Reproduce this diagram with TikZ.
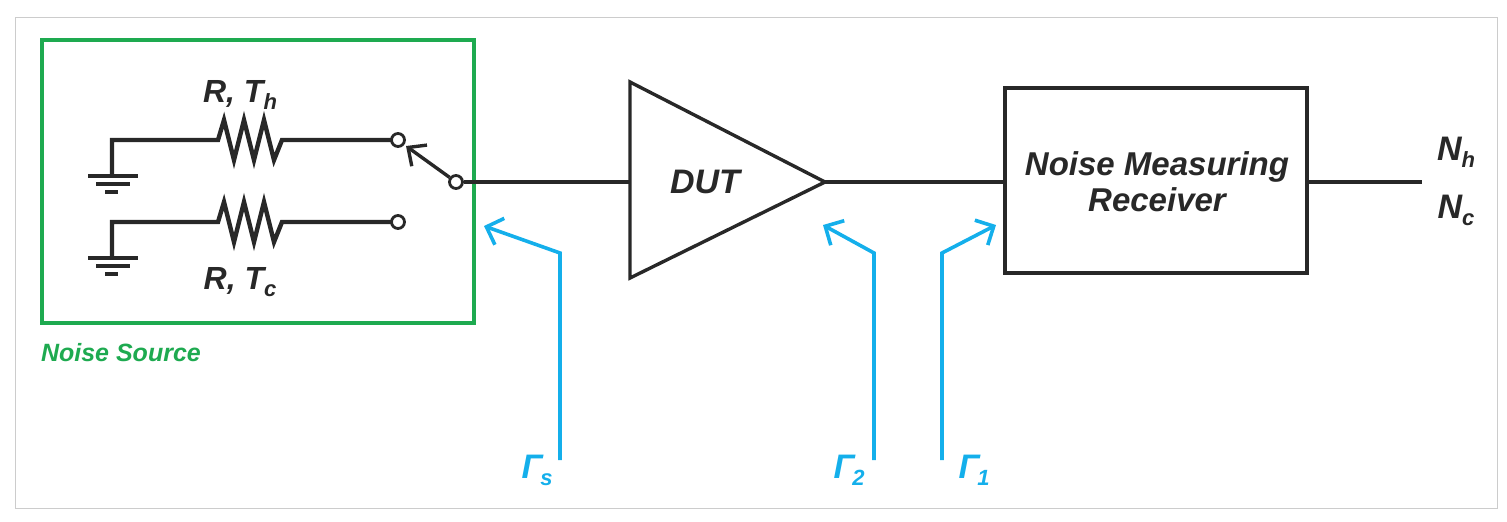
\documentclass[tikz,border=0pt]{standalone}
\usepackage{fontspec}
\setmainfont{Liberation Sans}
\usetikzlibrary{arrows.meta}
\definecolor{gr}{RGB}{30,170,80}
\definecolor{bl}{RGB}{20,175,235}
\definecolor{dk}{RGB}{40,40,40}
\newcommand{\sbs}[1]{\raisebox{-3.5pt}{\fontsize{11}{11}\selectfont #1}}
\begin{document}
\begin{tikzpicture}[x=0.5pt,y=-0.5pt,
  w/.style={dk,line width=1.7pt},
  bar/.style={bl,line width=1.8pt,-{Straight Barb[length=7pt,width=14pt]}},
  lab/.style={font=\bfseries\itshape\fontsize{16}{18}\selectfont,text=dk},
  gl/.style={font=\bfseries\itshape\fontsize{17}{20}\selectfont,text=bl},
  term/.style={circle,draw=dk,line width=1.4pt,fill=white,inner sep=0pt,minimum size=6.5pt}]
\useasboundingbox (0,0) rectangle (1507,521);
\draw[black!20,line width=0.5pt] (15,17) rectangle (1497,508);
\draw[gr,line width=1.8pt] (42,40) rectangle (474,323);
\node[font=\bfseries\itshape\fontsize{12.5}{14}\selectfont,text=gr,anchor=west] (ns) at (34,353) {Noise Source};
\foreach \y/\g/\n in {140/176/u,222/258/l}{
  \draw[w,line width=2.2pt] (112,\g) -- (112,\y) -- (218,\y) -- (224,\y-20) -- (234,\y+20) -- (244,\y-20) -- (254,\y+20) -- (264,\y-20) -- (274,\y+20) -- (282,\y) -- (392,\y);
  \draw[w] (88,\g) -- (138,\g);
  \draw[w] (96,\g+8) -- (130,\g+8);
  \draw[w] (105,\g+16) -- (118,\g+16);
  \node[term] (t\n) at (398,\y) {};
}
\node[lab] (rh) at (240,95) {R, T\sbs{h}};
\node[lab] (rc) at (240,282) {R, T\sbs{c}};
\node[term] (pv) at (456,182) {};
\draw[w,-{Straight Barb[length=7pt,width=13pt]}] (pv) -- (406,146);
\coordinate (ta) at (630,82); \coordinate (tb) at (630,278); \coordinate (tc) at (825,182);
\draw[w,line join=miter] (ta) -- (tc) -- (tb) -- cycle;
\node[lab,font=\bfseries\itshape\fontsize{17}{20}\selectfont] (dut) at (705,182) {DUT};
\draw[w] (pv) -- (630,182);
\node[draw=dk,line width=1.7pt,minimum width=151pt,minimum height=92.5pt] (rx) at (1156,180.5) {};
\node[lab,font=\bfseries\itshape\fontsize{16.5}{20}\selectfont,align=center] (rxt) at (1157,182) {Noise Measuring\\[-2pt]Receiver};
\draw[w] (tc) -- (rx.west |- tc);
\coordinate (out) at (1422,182);
\draw[w] (rx.east |- out) -- (out);
\node[lab,font=\bfseries\itshape\fontsize{17}{20}\selectfont] (nh) at (1456,152) {N\sbs{h}};
\node[lab,font=\bfseries\itshape\fontsize{17}{20}\selectfont] (nc) at (1456,210) {N\sbs{c}};
\node[gl] (gs) at (537,470) {Γ\kern-1pt\sbs{s}};
\node[gl] (g2) at (849,470) {Γ\kern-1pt\sbs{2}};
\node[gl] (g1) at (974,470) {Γ\kern-1pt\sbs{1}};
\draw[bar] (560,460) -- (560,253) -- (484,226);
\draw[bar] (874,460) -- (874,253) -- (823,225);
\draw[bar] (942,460) -- (942,253) -- (996,225);
\end{tikzpicture}
\end{document}
